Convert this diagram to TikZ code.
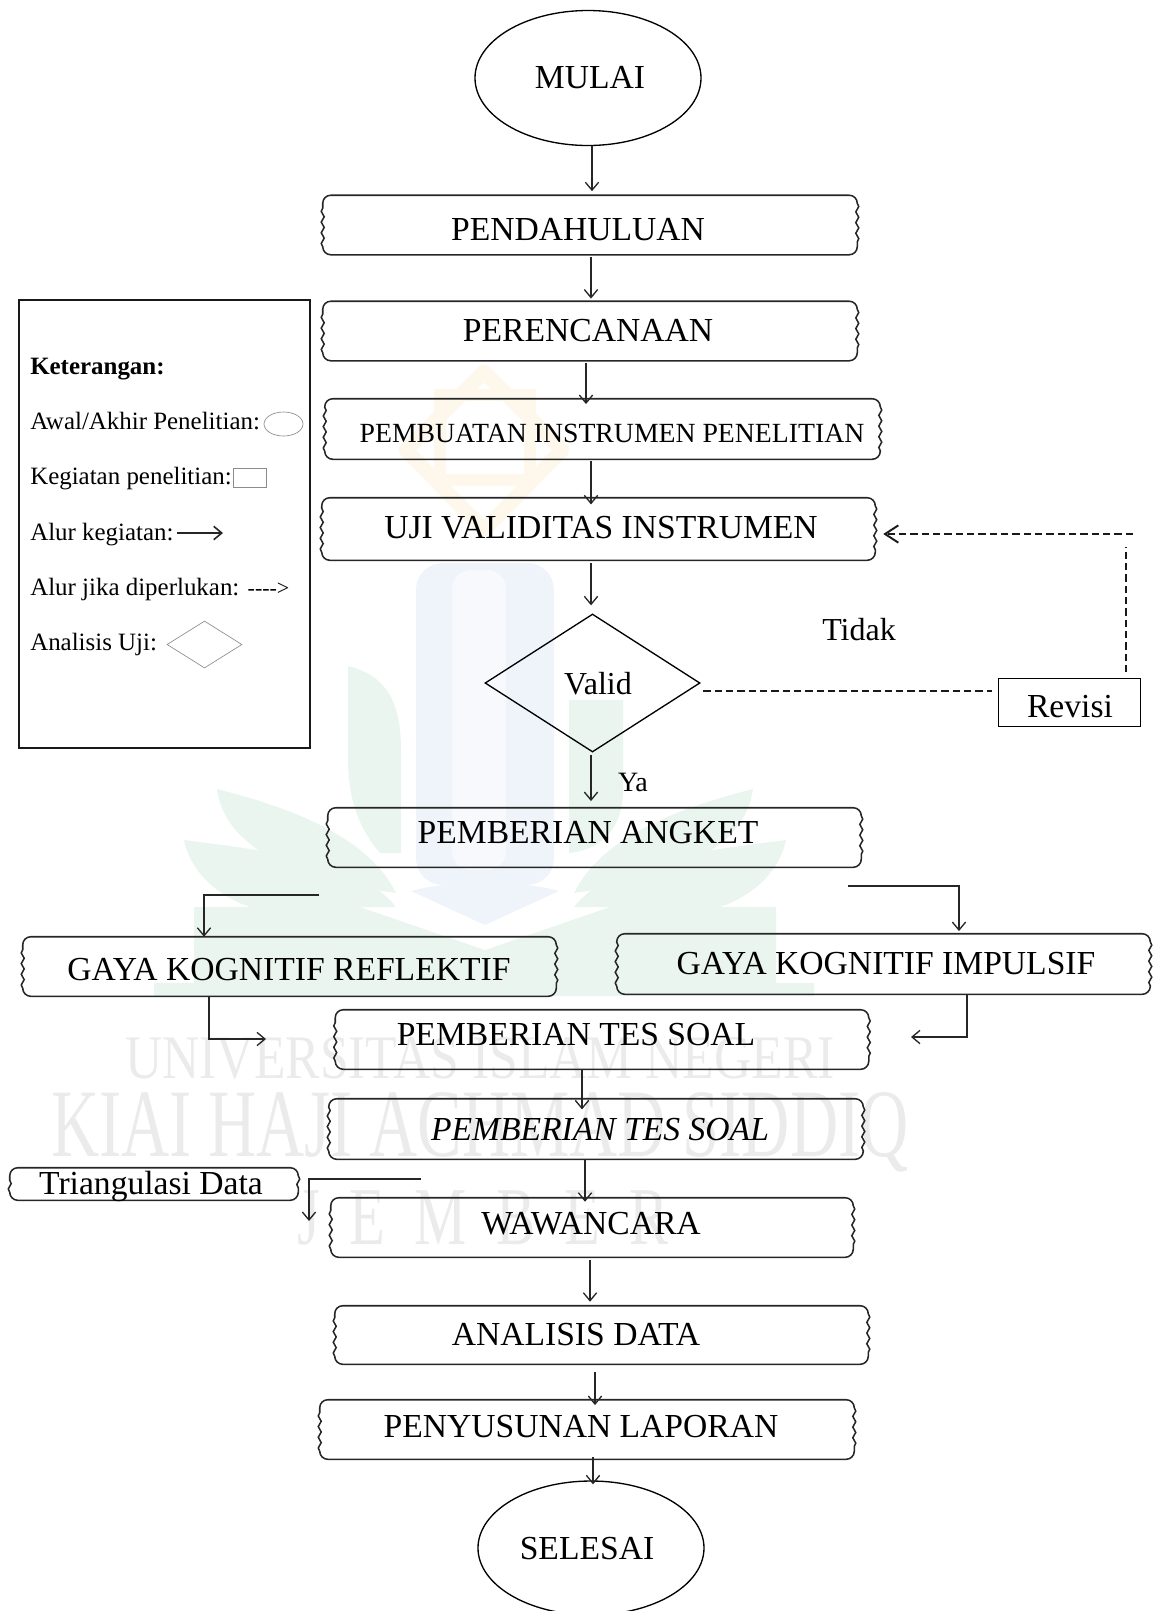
\documentclass[tikz,border=0pt]{standalone}
\usepackage{fontspec}
\setmainfont{Liberation Serif}
\usetikzlibrary{arrows.meta,shapes.geometric,decorations.pathmorphing}
\tikzset{
  boxsize/.style 2 args={minimum width=#1*.75pt,minimum height=#2*.75pt,inner sep=0pt},
  boxtext/.style={font=\fontsize{#1}{#1}\selectfont,inner sep=0pt},
  boxtext/.default=25.2,
  legendtext/.style={font=\fontsize{18.7}{20}\selectfont,anchor=base west,inner sep=0pt},
  legendshape/.style={draw=black!45,line width=.5pt},
  wavybox/.style={
    append after command={\pgfextra{
      \draw[line width=1.15pt,black!85,decoration={snake,segment length=8pt,amplitude=1.1pt}]
        ([xshift=6pt]\tikzlastnode.north west) -- ([xshift=-6pt]\tikzlastnode.north east)
        to[out=0,in=90] ([yshift=-6pt]\tikzlastnode.north east)
        decorate {-- ([yshift=6pt]\tikzlastnode.south east)}
        to[out=-90,in=0] ([xshift=-6pt]\tikzlastnode.south east)
        -- ([xshift=6pt]\tikzlastnode.south west)
        to[out=180,in=-90] ([yshift=6pt]\tikzlastnode.south west)
        decorate {-- ([yshift=-6pt]\tikzlastnode.north west)}
        to[out=90,in=180] ([xshift=6pt]\tikzlastnode.north west) -- cycle;
    }}},
  flow/.style={black!85,line width=1pt,-{Straight Barb[length=6pt,width=10pt]}},
  flowdash/.style={black!90,line width=1.45pt,dash pattern=on 5.5pt off 3pt},
  watermark/.style={black!8,inner sep=0pt},
}
\definecolor{wmgreen}{HTML}{EBF5F0}
\definecolor{wmblue}{HTML}{EFF4FA}
\definecolor{wmyellow}{HTML}{FEF8EC}
\begin{document}
\begin{tikzpicture}[x=.75pt,y=-.75pt]
\useasboundingbox (0,0) rectangle (1157,1611);

\draw[wmyellow,line width=11pt,line join=round] (484,372) -- (562,450) -- (484,530) -- (406,450) -- cycle;
\draw[wmyellow,line width=9pt] (440,395) -- (530,395) -- (530,480) -- (440,480) -- cycle;
\fill[wmblue,rounded corners=20pt] (416,563) rectangle (554,885);
\fill[white!50!wmblue,rounded corners=14pt] (452,570) rectangle (506,870);
\fill[wmgreen] (348,666) .. controls (385,675) and (401,700) .. (401,750) -- (401,853) -- (380,853) .. controls (360,830) and (348,800) .. (348,760) -- cycle;
\fill[wmgreen] (569,700) -- (623,700) -- (623,790) .. controls (623,830) and (600,850) .. (569,853) -- cycle;
\fill[wmgreen] (217,789) .. controls (300,810) and (370,840) .. (396,893) .. controls (300,880) and (225,850) .. (217,789) -- cycle;
\fill[wmgreen] (753,789) .. controls (670,810) and (600,840) .. (574,893) .. controls (670,880) and (745,850) .. (753,789) -- cycle;
\fill[wmgreen] (184,840) .. controls (260,850) and (360,860) .. (396,907) -- (250,907) .. controls (215,895) and (190,870) .. (184,840) -- cycle;
\fill[wmgreen] (786,840) .. controls (710,850) and (610,860) .. (574,907) -- (720,907) .. controls (755,895) and (780,870) .. (786,840) -- cycle;
\fill[wmgreen] (194,907) -- (360,907) -- (485,950) -- (610,907) -- (776,907) -- (776,983) -- (814,983) -- (814,996) -- (154,996) -- (154,983) -- (194,983) -- cycle;
\fill[wmblue] (411,891) .. controls (450,880) and (520,880) .. (559,891) -- (485,925) -- cycle;
\node[watermark,font=\fontsize{38.7}{46}\selectfont] (wmuniv) at (480,1058) {\scalebox{1}[1.2]{UNIVERSITAS ISLAM NEGERI}};
\node[watermark,font=\fontsize{50}{60}\selectfont] (wmkiai) at (480,1132) {\scalebox{1}[1.45]{KIAI HAJI ACHMAD SIDDIQ}};
\node[watermark,font=\fontsize{44}{52}\selectfont] (wmjember) at (483,1218) {\scalebox{1}[1.4]{J\ \ E\ \ M\ \ B\ \ E\ \ R}};

\node[draw,ellipse,line width=1pt,boxsize={226}{135}] (mulai) at (588,78) {};
\node[boxtext] (mulaitext) at (590,78) {MULAI};

\node[wavybox,boxsize={534}{59}] (pendahuluan) at (590,225) {};
\node[boxtext] (pendahuluantext) at (578,230) {PENDAHULUAN};
\node[wavybox,boxsize={534}{59}] (perencanaan) at (590,331) {};
\node[boxtext] (perencanaantext) at (588,331) {PERENCANAAN};
\node[wavybox,boxsize={555}{60}] (pembuatan) at (602.5,429) {};
\node[boxtext=20.8] (pembuatantext) at (612,433) {PEMBUATAN INSTRUMEN PENELITIAN};
\node[wavybox,boxsize={553}{62}] (uji) at (598.5,529) {};
\node[boxtext] (ujitext) at (601,528) {UJI VALIDITAS INSTRUMEN};

\node[draw,diamond,line width=1pt,boxsize={215}{138}] (valid) at (592.5,683) {};
\node[boxtext=24] (validtext) at (598,684) {Valid};
\node[draw,line width=.7pt,boxsize={142}{48}] (revisi) at (1069,702) {};
\node[boxtext] (revisitext) at (1070,707) {Revisi};
\node[boxtext=24] (tidak) at (859,630) {Tidak};
\node[boxtext=21] (ya) at (633,782) {Ya};

\node[wavybox,boxsize={533}{59}] (angket) at (594.5,837.5) {};
\node[boxtext] (angkettext) at (588,833) {PEMBERIAN ANGKET};
\node[wavybox,boxsize={533}{59}] (reflektif) at (289.5,966.5) {};
\node[boxtext] (reflektiftext) at (289,970) {GAYA KOGNITIF REFLEKTIF};
\node[wavybox,boxsize={533}{60}] (impulsif) at (883.5,964) {};
\node[boxtext] (impulsiftext) at (886,964) {GAYA KOGNITIF IMPULSIF};
\node[wavybox,boxsize={533}{59}] (tes) at (602,1039.5) {};
\node[boxtext] (testext) at (576,1035) {PEMBERIAN TES SOAL};
\node[wavybox,boxsize={534}{60}] (tesdua) at (596,1129) {};
\node[boxtext] (tesduatext) at (600,1130) {\itshape PEMBERIAN TES SOAL};
\node[wavybox,boxsize={288}{32}] (triangulasi) at (154,1184) {};
\node[boxtext] (triangulasitext) at (151,1186) {Triangulasi Data};
\node[wavybox,boxsize={522}{59}] (wawancara) at (592,1227.5) {};
\node[boxtext] (wawancaratext) at (591,1224) {WAWANCARA};
\node[wavybox,boxsize={533}{58}] (analisis) at (601.5,1335) {};
\node[boxtext] (analisistext) at (576,1335) {ANALISIS DATA};
\node[wavybox,boxsize={534}{59}] (penyusunan) at (587,1429.5) {};
\node[boxtext] (penyusunantext) at (581,1427) {PENYUSUNAN LAPORAN};

\node[draw,ellipse,line width=1pt,boxsize={226}{134}] (selesai) at (591,1548) {};
\node[boxtext] (selesaitext) at (587,1549) {SELESAI};

\node[draw,line width=1pt,boxsize={291}{448},black!90] (legenda) at (164.5,524) {};
\node[legendtext,font=\fontsize{18.7}{20}\selectfont\bfseries] (keterangan) at (30,374) {Keterangan:};
\node[legendtext] (legawal) at (30,429) {Awal/Akhir Penelitian:};
\node[draw,ellipse,legendshape,boxsize={39}{24}] (legellipse) at (283.5,424) {};
\node[legendtext] (legkegiatan) at (30,484) {Kegiatan penelitian:};
\node[draw,legendshape,boxsize={33}{19}] (legrect) at (249.5,477.5) {};
\node[legendtext] (legalur) at (30,540) {Alur kegiatan:};
\coordinate (legalurstart) at (177,533);
\coordinate (legalurend) at (223,533);
\draw[flow,line width=1.2pt] (legalurstart) -- (legalurend);
\node[legendtext] (legjika) at (30,595) {Alur jika diperlukan: {\fontsize{16.5}{20}\selectfont -{}-{}-{}->}};
\node[legendtext] (leganalisis) at (30,650) {Analisis Uji:};
\node[draw,diamond,legendshape,boxsize={75}{47}] (legdiamond) at (204.5,644.5) {};

\draw[flow,shorten >=3pt] (mulai.south -| 592,0) -- (pendahuluan.north -| 592,0);
\draw[flow,shorten <=2pt,shorten >=2pt] (pendahuluan.south -| 591,0) -- (perencanaan.north -| 591,0);
\draw[flow,shorten <=1.5pt,shorten >=-4pt] (perencanaan.south -| 586,0) -- (pembuatan.north -| 586,0);
\draw[flow,shorten <=1.5pt,shorten >=-5pt] (pembuatan.south -| 591,0) -- (uji.north -| 591,0);
\draw[flow,shorten <=2pt,shorten >=6pt] (uji.south -| 591,0) -- (valid.north -| 591,0);
\draw[flow,shorten <=2pt,shorten >=5pt] (valid.south -| 591,0) -- (angket.north -| 591,0);
\draw[flow,shorten >=-8pt] (tes.south -| 582,0) -- (tesdua.north -| 582,0);
\draw[flow,shorten >=-3pt] (tesdua.south -| 585,0) -- (wawancara.north -| 585,0);
\draw[flow,shorten <=2pt,shorten >=3pt] (wawancara.south -| 590,0) -- (analisis.north -| 590,0);
\draw[flow,shorten <=6pt,shorten >=-4pt] (analisis.south -| 595,0) -- (penyusunan.north -| 595,0);
\draw[flow,shorten <=-1.5pt,shorten >=-3pt] (penyusunan.south -| 593,0) -- (selesai.north -| 593,0);

\coordinate (kirimulai) at (319,895);
\coordinate (kananmulai) at (848,886);
\coordinate (kiriakhir) at (266,1039);
\coordinate (kananakhir) at (911,1037);
\coordinate (triangmulai) at (421,1179);
\coordinate (triangakhir) at (309,1221);
\draw[flow] (kirimulai) -| (reflektif.north -| 204,0);
\draw[flow,shorten >=2pt] (kananmulai) -| (impulsif.north -| 959,0);
\draw[flow] (reflektif.south -| 209,0) |- (kiriakhir);
\draw[flow] (impulsif.south -| 967,0) |- (kananakhir);
\draw[flow] (triangmulai) -| (triangakhir);

\coordinate (revisiatas) at (1126,547);
\coordinate (revisikanan) at (1133,534);
\draw[flowdash,shorten <=2pt,shorten >=4pt] (valid.east |- 0,691) -- (revisi.west |- 0,691);
\draw[flowdash,shorten <=4pt] (revisi.north -| revisiatas) -- (revisiatas);
\draw[flowdash,-{Straight Barb[length=10pt,width=13pt]},shorten >=6pt] (revisikanan) -- (uji.east |- revisikanan);
\end{tikzpicture}
\end{document}
